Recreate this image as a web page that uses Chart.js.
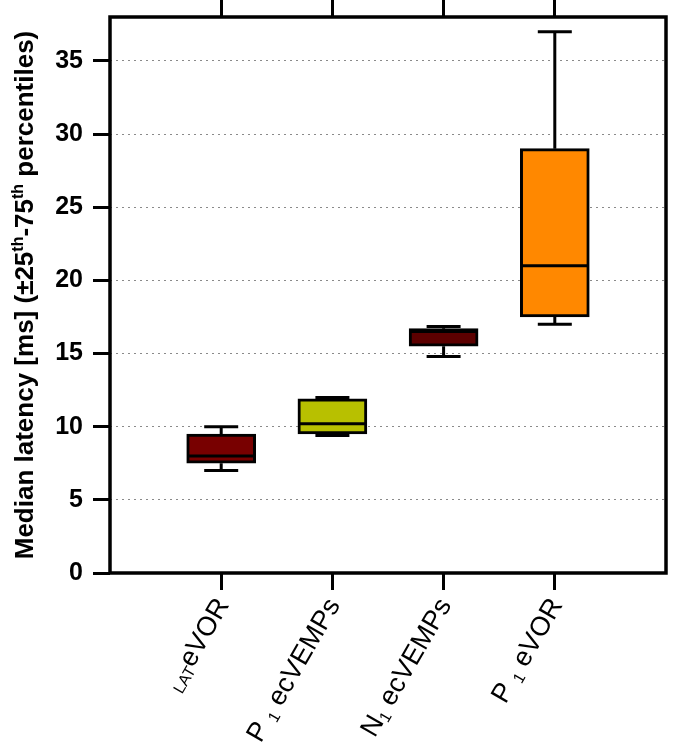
<!DOCTYPE html>
<html>
<head>
<meta charset="utf-8">
<script src="https://cdn.jsdelivr.net/npm/chart.js@4.4.0/dist/chart.umd.min.js"></script>
<style>
  html, body { margin: 0; padding: 0; background: #fff; }
</style>
</head>
<body>
<canvas id="myChart" width="685" height="742"></canvas>
<script>
// data
const categories = ['LATeVOR', 'P1 ecVEMPs', 'N1 ecVEMPs', 'P1 eVOR'];
const positions = [1, 2, 3, 4];
const whiskerLow = [7.0, 9.4, 14.8, 17.0];
const q1 = [7.5, 9.5, 15.5, 17.5];
const medians = [8.0, 10.2, 16.5, 21.0];
const q3 = [9.5, 11.9, 16.7, 29.0];
const whiskerHigh = [10.0, 12.0, 16.85, 37.0];
const boxColors = ['#780000', '#b8c000', '#5c0000', '#ff8800'];
const yTicks = [0, 5, 10, 15, 20, 25, 30, 35];

// label pieces, with sub/superscript marks
const labelParts = [
  [['LAT', 'sub'], ['eVOR', '']],
  [['P ', ''], ['1', 'sub'], [' ecVEMPs', '']],
  [['N', ''], ['1', 'sub'], [' ecVEMPs', '']],
  [['P ', ''], ['1', 'sub'], [' eVOR', '']]
];
const titleParts = [
  ['Median latency [ms] (\u00b125', ''], ['th', 'sup'], ['-75', ''], ['th', 'sup'], [' percentiles)', '']
];

const FONT = "'Liberation Sans', Arial, sans-serif";

// measure + draw a run of text pieces, starting at x=0 on the baseline
function drawParts(ctx, parts, size, bold, alignEnd) {
  const w = bold ? 'bold ' : '';
  const small = Math.round(size * 0.6);
  let total = 0;
  parts.forEach(p => {
    ctx.font = w + (p[1] ? small : size) + 'px ' + FONT;
    total += ctx.measureText(p[0]).width;
  });
  let x = alignEnd ? -total : -total / 2;
  parts.forEach(p => {
    ctx.font = w + (p[1] ? small : size) + 'px ' + FONT;
    let dy = 0;
    if (p[1] === 'sub') dy = size * 0.25;
    if (p[1] === 'sup') dy = -size * 0.4;
    ctx.fillText(p[0], x, dy);
    x += ctx.measureText(p[0]).width;
  });
}

const boxPlugin = {
  id: 'boxWhiskers',
  afterDatasetsDraw(chart) {
    const ctx = chart.ctx;
    const x = chart.scales.x, y = chart.scales.y;
    ctx.save();
    ctx.strokeStyle = '#000';
    ctx.lineWidth = 3;
    positions.forEach((p, i) => {
      const cx = x.getPixelForValue(p);
      const lo = y.getPixelForValue(whiskerLow[i]);
      const hi = y.getPixelForValue(whiskerHigh[i]);
      const m = y.getPixelForValue(medians[i]);
      ctx.beginPath();
      ctx.moveTo(cx, lo); ctx.lineTo(cx, y.getPixelForValue(q1[i]));
      ctx.moveTo(cx, y.getPixelForValue(q3[i])); ctx.lineTo(cx, hi);
      ctx.moveTo(cx - 17, lo); ctx.lineTo(cx + 17, lo);
      ctx.moveTo(cx - 17, hi); ctx.lineTo(cx + 17, hi);
      ctx.moveTo(cx - 33, m); ctx.lineTo(cx + 33, m);
      ctx.stroke();
    });
    const a = chart.chartArea;
    ctx.lineWidth = 3.5;
    ctx.strokeRect(a.left, a.top, a.right - a.left, a.bottom - a.top);
    ctx.restore();
  },
  afterDraw(chart) {
    const ctx = chart.ctx;
    const x = chart.scales.x;
    const a = chart.chartArea;
    ctx.save();
    ctx.fillStyle = '#000';
    ctx.textBaseline = 'middle';
    ctx.textAlign = 'left';
    // rotated category labels
    positions.forEach((p, i) => {
      ctx.save();
      ctx.translate(x.getPixelForValue(p) + 2, a.bottom + 28);
      ctx.rotate(-Math.PI / 3);
      drawParts(ctx, labelParts[i], 27, false, true);
      ctx.restore();
    });
    // y axis title
    ctx.save();
    ctx.textBaseline = 'alphabetic';
    ctx.translate(33, (a.top + a.bottom) / 2);
    ctx.rotate(-Math.PI / 2);
    drawParts(ctx, titleParts, 26, true, false);
    ctx.restore();
    ctx.restore();
  }
};

const ctx = document.getElementById('myChart').getContext('2d');
const boxChart = new Chart(ctx, {
  type: 'bar',
  data: {
    datasets: [{
      label: 'IQR',
      data: positions.map((p, i) => ({ x: p, y: [q1[i], q3[i]] })),
      backgroundColor: boxColors,
      borderColor: '#000',
      borderWidth: 3,
      borderSkipped: false,
      barThickness: 69
    }]
  },
  options: {
    responsive: false,
    animation: false,
    layout: { padding: { left: 0, right: 19, top: 0, bottom: 0 } },
    plugins: { legend: { display: false }, tooltip: { enabled: false } },
    scales: {
      x: {
        type: 'linear', position: 'bottom', min: 0, max: 5, offset: false,
        afterBuildTicks: s => { s.ticks = positions.map(v => ({ value: v })); },
        afterFit: s => { s.height = 169; s.paddingLeft = 0; s.paddingRight = 0; },
        ticks: { display: false },
        grid: { offset: false, drawOnChartArea: false, tickLength: 17, tickWidth: 3, tickColor: '#000' },
        border: { display: false }
      },
      xTop: {
        type: 'linear', position: 'top', min: 0, max: 5, offset: false,
        afterBuildTicks: s => { s.ticks = positions.map(v => ({ value: v })); },
        afterFit: s => { s.height = 17; s.paddingLeft = 0; s.paddingRight = 0; },
        ticks: { display: false },
        grid: { offset: false, drawOnChartArea: false, tickLength: 17, tickWidth: 3, tickColor: '#000' },
        border: { display: false }
      },
      y: {
        min: 0, max: 38,
        afterBuildTicks: s => { s.ticks = yTicks.map(v => ({ value: v })); },
        afterFit: s => { s.width = 110; s.paddingTop = 0; s.paddingBottom = 0; },
        ticks: { color: '#000', padding: 10, font: { family: FONT, size: 25, weight: 'bold' } },
        grid: { color: '#8a8a8a', lineWidth: 1, tickLength: 17, tickWidth: 3, tickColor: '#000' },
        border: { display: false, dash: [2, 4] }
      }
    }
  },
  plugins: [boxPlugin]
});
</script>
</body>
</html>
